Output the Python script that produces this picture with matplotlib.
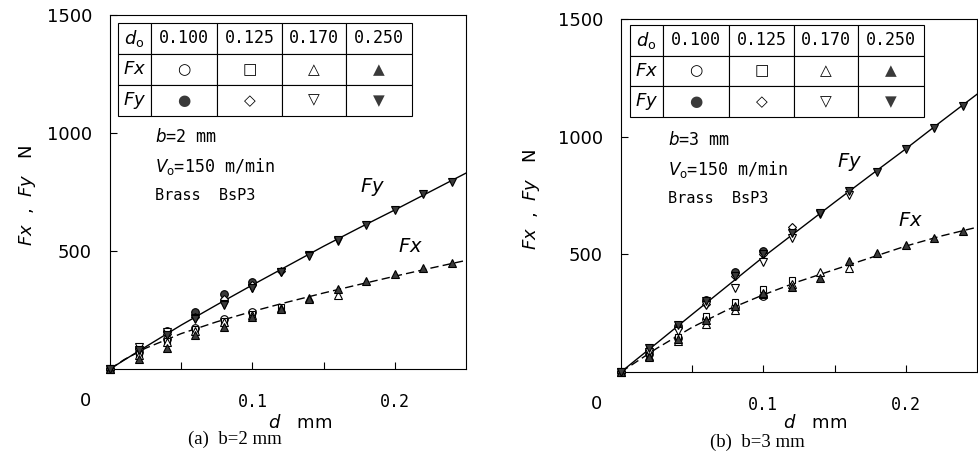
import matplotlib
matplotlib.use("Agg")
import matplotlib.pyplot as plt

# ── data (d in mm, force in N) ──
D = [0, 0.02, 0.04, 0.06, 0.08, 0.10, 0.12, 0.14, 0.16, 0.18, 0.20, 0.22, 0.24]
D0_LABELS = ["0.100", "0.125", "0.170", "0.250"]

# (a) b = 2 mm
A_FX_100 = [0, 70, 125, 175, 210, 240]
A_FY_100 = [0, 90, 160, 240, 318, 370]
A_FX_125 = [0, 65, 120, 170, 205, 235, 262]
A_FY_125 = [0, 85, 150, 220, 295, 355, 415]
A_FX_170 = [0, 60, 115, 160, 200, 228, 258, 300, 314]
A_FY_170 = [0, 95, 155, 215, 275, 345, 410, 483, 542]
A_FX_250 = [0, 42, 90, 145, 180, 222, 255, 295, 338, 373, 402, 428, 449]
A_FY_250 = [0, 80, 145, 210, 270, 343, 410, 478, 545, 610, 674, 741, 792]

# (b) b = 3 mm
B_FX_100 = [0, 75, 145, 227, 278, 321]
B_FY_100 = [0, 95, 197, 308, 425, 514]
B_FX_125 = [0, 80, 147, 240, 297, 351, 389]
B_FY_125 = [0, 90, 185, 290, 406, 500, 616]
B_FX_170 = [0, 70, 133, 206, 265, 330, 375, 425, 440]
B_FY_170 = [0, 85, 175, 283, 355, 467, 570, 670, 750]
B_FX_250 = [0, 65, 140, 220, 280, 335, 360, 400, 470, 504, 541, 570, 600]
B_FY_250 = [0, 100, 200, 300, 410, 500, 590, 675, 770, 851, 948, 1036, 1131]

# fitted curves
FIT_D = [0, 0.01, 0.025, 0.05, 0.075, 0.1, 0.125, 0.15, 0.175, 0.2, 0.225, 0.25]
A_FIT_FX = [0, 40, 88, 150, 200, 244, 284, 322, 358, 393, 427, 460]
A_FIT_FY = [0, 38, 94, 186, 272, 356, 438, 520, 598, 674, 752, 830]
B_FIT_FX = [0, 40, 100, 190, 265, 328, 385, 435, 485, 535, 578, 615]
B_FIT_FY = [0, 49, 122, 245, 367, 489, 605, 721, 835, 948, 1065, 1180]

DARK = "#3a3a3a"
MONO = "DejaVu Sans Mono"
plt.rcParams["mathtext.fontset"] = "dejavusans"

# marker per d0: (Fx style, Fy style) -> (marker, facecolor)
STYLES = [
    (("o", "white"), ("o", DARK)),
    (("s", "white"), ("D", "white")),
    (("^", "white"), ("v", "white")),
    (("^", DARK), ("v", DARK)),
]
SYMBOLS = [("○", "●"), ("□", "◇"), ("△", "▽"), ("▲", "▼")]
MS = {"o": 5.5, "s": 5, "D": 4.5, "^": 5.5, "v": 5.5}


def draw_panel(ax, fx_sets, fy_sets, fit_fx, fit_fy, bval, caption, pos):
    ax.plot(FIT_D, fit_fy, "-", color="black", lw=1.0, zorder=2)
    ax.plot(FIT_D, fit_fx, color="black", lw=1.0, ls=(0, (6, 3)), zorder=2)

    for (sx, sy), fx, fy in zip(STYLES, fx_sets, fy_sets):
        ax.plot(D[:len(fx)], fx, ls="none", marker=sx[0], mfc=sx[1], mec="black",
                mew=0.8, ms=MS[sx[0]], zorder=3, clip_on=False)
        ax.plot(D[:len(fy)], fy, ls="none", marker=sy[0], mfc=sy[1], mec="black",
                mew=0.8, ms=MS[sy[0]], zorder=3, clip_on=False)

    ax.set_xlim(0, 0.25)
    ax.set_ylim(0, 1500)
    ax.set_xticks([0.05, 0.1, 0.15, 0.2])
    ax.set_xticklabels(["", "0.1", "", "0.2"], fontfamily=MONO, fontsize=12)
    ax.set_yticks([500, 1000, 1500])
    ax.set_yticklabels(["500", "1000", "1500"], fontsize=13)
    ax.tick_params(axis="x", direction="in", length=5, width=0.8, pad=17)
    ax.tick_params(axis="y", direction="in", length=5, width=0.8, pad=13)
    for sp in ax.spines.values():
        sp.set_linewidth(0.8)

    ax.text(-0.07, -0.09, "0", transform=ax.transAxes, fontsize=13,
            ha="center", va="center")
    ax.text(pos["xl"], pos["yl"], r"$d$   mm", transform=ax.transAxes,
            fontsize=13, ha="center", va="center")
    ax.text(pos["cx"], pos["cy"], caption, transform=ax.transAxes,
            family="Liberation Serif", fontsize=13.5, ha="center", va="center")
    ax.text(pos["ylx"], 0.49, r"$Fx$  ,  $Fy$   N", transform=ax.transAxes,
            fontsize=13, rotation=90, ha="center", va="center")

    # condition notes
    ax.text(pos["tx"], pos["ty"], r"$b$=%s mm" % bval, transform=ax.transAxes,
            family=MONO, fontsize=12, va="center")
    ax.text(pos["tx"], pos["ty"] - 0.083, r"$V_{\rm o}$=150 m/min",
            transform=ax.transAxes, family=MONO, fontsize=12, va="center")
    ax.text(pos["tx"], pos["ty"] - 0.166, "Brass  BsP3", transform=ax.transAxes,
            family=MONO, fontsize=11, va="center")

    ax.text(pos["fyx"], pos["fyy"], r"$Fy$", transform=ax.transAxes,
            fontsize=14, ha="center", va="center")
    ax.text(pos["fxx"], pos["fxy"], r"$Fx$", transform=ax.transAxes,
            fontsize=14, ha="center", va="center")

    # marker key table
    cells = [[r"$d_{\rm o}$"] + D0_LABELS,
             [r"$Fx$"] + [s[0] for s in SYMBOLS],
             [r"$Fy$"] + [s[1] for s in SYMBOLS]]
    tab = ax.table(cellText=cells, cellLoc="center", bbox=pos["tab"],
                   colWidths=[0.112, 0.225, 0.221, 0.218, 0.224])
    tab.auto_set_font_size(False)
    for (r, c), cell in tab.get_celld().items():
        cell.set_linewidth(0.8)
        cell.set_facecolor("white")
        t = cell.get_text()
        if r == 0 and c > 0:
            t.set_fontfamily(MONO)
            t.set_fontsize(12)
        elif c == 0:
            t.set_fontsize(13)
        else:
            t.set_fontsize(11)
            if SYMBOLS[c - 1][r - 1] in ("●", "▲", "▼"):
                t.set_color(DARK)


fig = plt.figure(figsize=(9.79, 4.71), dpi=100)
ax_a = fig.add_axes([0.1124, 0.2166, 0.3636, 0.7516])
ax_b = fig.add_axes([0.6343, 0.2102, 0.3636, 0.7495])

draw_panel(ax_a,
           [A_FX_100, A_FX_125, A_FX_170, A_FX_250],
           [A_FY_100, A_FY_125, A_FY_170, A_FY_250],
           A_FIT_FX, A_FIT_FY, "2", "(a)  b=2 mm",
           dict(xl=0.534, yl=-0.153, cx=0.351, cy=-0.2, ylx=-0.233,
                tx=0.126, ty=0.655, fyx=0.736, fyy=0.514, fxx=0.843, fxy=0.345,
                tab=[0.0225, 0.715, 0.826, 0.263]))
draw_panel(ax_b,
           [B_FX_100, B_FX_125, B_FX_170, B_FX_250],
           [B_FY_100, B_FY_125, B_FY_170, B_FY_250],
           B_FIT_FX, B_FIT_FY, "3", "(b)  b=3 mm",
           dict(xl=0.545, yl=-0.144, cx=0.382, cy=-0.198, ylx=-0.25,
                tx=0.132, ty=0.657, fyx=0.643, fyy=0.595, fxx=0.812, fxy=0.43,
                tab=[0.0253, 0.722, 0.826, 0.261]))

fig.savefig("out.png", dpi=100)
